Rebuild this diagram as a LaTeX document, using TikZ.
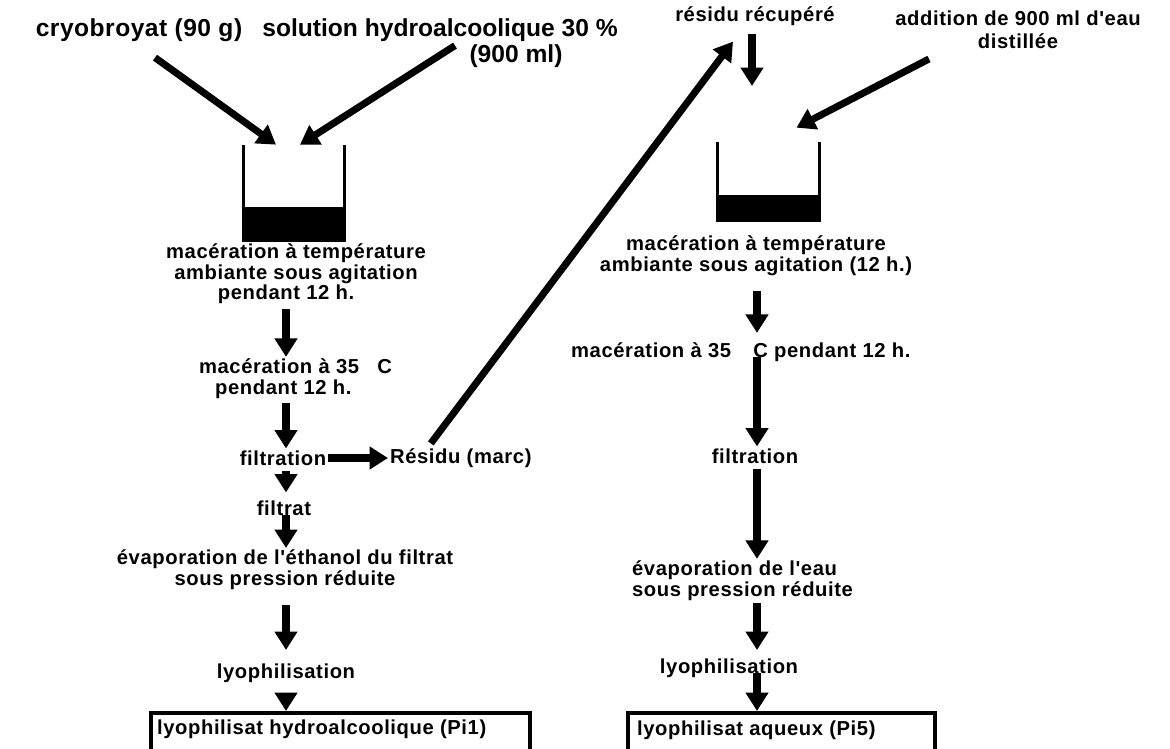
\documentclass[tikz,border=0pt]{standalone}
\usepackage{fontspec}
\setmainfont{Liberation Sans}
\newfontfamily\labf{Liberation Sans}[LetterSpace=3,Ligatures=NoCommon]
\newfontfamily\bigf{Liberation Sans}[LetterSpace=2,Ligatures=NoCommon]
\usetikzlibrary{arrows.meta,calc}
\begin{document}
\begin{tikzpicture}[x=0.02cm,y=-0.02cm,
  lab/.style={font=\labf\bfseries\fontsize{11.5}{10.5}\selectfont, inner sep=1pt, align=center},
  labw/.style={font=\labf\bfseries\fontsize{11.5}{12}\selectfont, inner sep=1pt, align=center},
  big/.style={font=\bigf\bfseries\fontsize{14}{16}\selectfont, inner sep=1pt, align=center},
  arr/.style={line width=4pt, -{Triangle[width=12.5pt,length=10.5pt]}},
  wall/.style={line width=1.8pt},
  boxl/.style={line width=2.6pt},
  beaker/.style={draw=none, inner sep=0pt, minimum width=2.02cm}]
\useasboundingbox (0,0) rectangle (1170,748);
\fill[white] (0,0) rectangle (1170,748);
\coordinate (colL) at (286,0);
\coordinate (colR) at (757,0);
% top texts
\node[big] (cryo) at (139,30) {cryobroyat (90 g)};
\node[big, font=\bfseries\fontsize{14}{16}\selectfont] (sol) at (440,30) {solution hydroalcoolique 30 \%};
\node[big, font=\bfseries\fontsize{14}{16}\selectfont] (ml) at (516,56) {(900 ml)};
\node[lab] (recup) at (755,16) {résidu récupéré};
\node[labw, font=\labf\bfseries\fontsize{11.5}{13}\selectfont] (addit) at (1018,30) {addition de 900 ml d'eau\\distillée};
% beakers
\node[beaker, minimum height=1.9cm] (b1) at (294,192.5) {};
\draw[wall] (b1.north west) -- (b1.south west) -- (b1.south east) -- (b1.north east);
\fill (b1.south west) rectangle ($(b1.south east)+(0,-33)$);
\node[beaker, minimum height=1.56cm] (b2) at (768.5,181) {};
\draw[wall] (b2.north west) -- (b2.south west) -- (b2.south east) -- (b2.north east);
\fill (b2.south west) rectangle ($(b2.south east)+(0,-25)$);
% left column
\node[lab] (t1) at (296,274) {macération à température\\ambiante sous agitation\\pendant 12 h.\hspace*{0.4cm}};
\node[labw, anchor=west, align=left] (t2) at (197,379) {macération à 35\hspace{0.9em}C\\\hspace*{0.32cm}pendant 12 h.};
\node[lab] (filt1) at (283,458) {filtration};
\node[lab, anchor=west] (resid) at (388,458) {Résidu (marc)};
\node[lab] (filtrat) at (284,508) {filtrat};
\node[lab] (t6) at (285,570) {évaporation de l'éthanol du filtrat\\sous pression réduite};
\node[lab] (lyo1) at (286,673) {lyophilisation};
\node[lab, anchor=west] (pi1) at (155,729) {lyophilisat hydroalcoolique (Pi1)};
\coordinate (box1top) at (286,713);
\draw[boxl] (151,770) -- (151,713) -- (530,713) -- (530,770);
% right column
\node[lab] (t3) at (756,256) {macération à température\\ambiante sous agitation (12 h.)};
\node[lab, anchor=west] (t4) at (569,352) {macération à 35\hspace{1.1em}C pendant 12 h.};
\node[lab] (filt2) at (755,456) {filtration};
\node[labw, anchor=west, align=left] (t5) at (630,581) {évaporation de l'eau\\sous pression réduite};
\node[lab] (lyo2) at (729,668) {lyophilisation};
\node[lab, anchor=west] (pi5) at (635,730) {lyophilisat aqueux (Pi5)};
\coordinate (box2top) at (757,713);
\draw[boxl] (628,770) -- (628,713) -- (935,713) -- (935,770);
% arrows into beakers
\draw[arr] ($(cryo.south)+(16,14)$) -- ($(b1.north)+(-18,0)$);
\draw[arr] ($(sol.south)+(15,2)$) -- ($(b1.north)+(6,0)$);
\draw[arr] ($(addit.south)+(-89,8)$) -- ($(b2.north)+(28,-14)$);
\coordinate (recupend) at (752,86);
\draw[arr] ($(recup.south)+(-3,6)$) -- (recupend);
\draw[arr] ($(resid.north)+(-30,-3)$) -- ($(recup.south)+(-22,14)$);
% left arrows
\draw[arr, shorten <=0.06cm] (t1.south -| colL) -- (t2.north -| colL);
\draw[arr, shorten <=0.04cm] (t2.south -| colL) -- (filt1.north -| colL);
\draw[arr] (filt1.east) -- (resid.west);
\draw[arr, shorten <=0.06cm, shorten >=0.12cm] (filt1.south -| colL) -- (filtrat.north -| colL);
\draw[arr] ($(filtrat.center -| colL)+(0,7)$) -- (t6.north -| colL);
\draw[arr, shorten <=0.26cm, shorten >=0.23cm] (t6.south -| colL) -- (lyo1.north -| colL);
\draw[arr, shorten <=0.25cm, shorten >=0.04cm] (lyo1.south -| colL) -- (box1top);
% right arrows
\draw[arr, shorten <=0.27cm, shorten >=0.15cm] (t3.south -| colR) -- (t4.north -| colR);
\draw[arr] ($(t4.center -| colR)+(0,5)$) -- (filt2.north -| colR);
\draw[arr, shorten <=0.06cm] (filt2.south -| colR) -- (t5.north -| colR);
\draw[arr, shorten >=0.13cm] (t5.south -| colR) -- (lyo2.north -| colR);
\draw[arr, shorten >=0.04cm] ($(lyo2.center -| colR)+(0,5)$) -- (box2top);
\end{tikzpicture}
\end{document}
